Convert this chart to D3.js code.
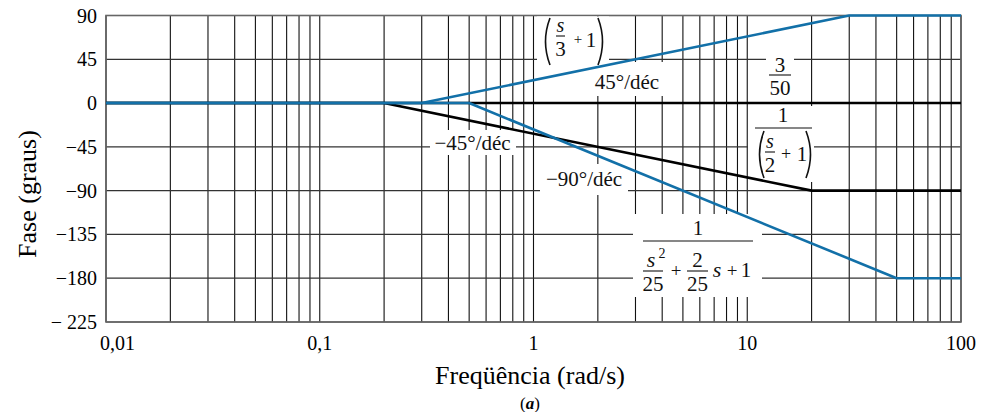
<!DOCTYPE html>
<html>
<head>
<meta charset="utf-8">
<script src="https://cdn.jsdelivr.net/npm/d3@7"></script>
<style>
  html, body { margin: 0; padding: 0; background: #fff; }
  svg { display: block; }
</style>
</head>
<body>
<svg id="chart" width="989" height="412"></svg>
<script>
// Asymptotic Bode phase plot: straight-line approximations of each factor.
const freqDomain = [0.01, 100];
const phaseDomain = [-225, 90];
const phaseTicks = [90, 45, 0, -45, -90, -135, -180, -225];
const phaseTickLabels = ["90", "45", "0", "\u221245", "\u221290", "\u2212135", "\u2212180", "\u2212 225"];
const freqTicks = [0.01, 0.1, 1, 10, 100];
const freqTickLabels = ["0,01", "0,1", "1", "10", "100"];

// 3/50 : constant gain, 0°
const gainFreq = [0.01, 100];
const gainPhase = [0, 0];
// (s/3 + 1) : +45°/déc from 0.3 to 30
const zeroFreq = [0.01, 0.3, 30, 100];
const zeroPhase = [0, 0, 90, 90];
// 1/(s/2 + 1) : −45°/déc from 0.2 to 20
const poleFreq = [0.01, 0.2, 20, 100];
const polePhase = [0, 0, -90, -90];
// 1/(s²/25 + 2s/25 + 1) : −90°/déc from 0.5 to 50
const quadFreq = [0.01, 0.5, 50, 100];
const quadPhase = [0, 0, -180, -180];

const BLUE = "#1270a8";
const FONT = '"Liberation Serif"';
const svg = d3.select("#chart");
const x = d3.scaleLog().domain(freqDomain).range([106, 961]);
const y = d3.scaleLinear().domain(phaseDomain).range([322, 15.5]);

// grid: every 1..9 of each decade
const decadeLines = [];
for (let e = -2; e <= 1; e++) for (let k = 1; k <= 9; k++) decadeLines.push(k * Math.pow(10, e));
decadeLines.push(100);

const grid = svg.append("g");
grid.selectAll("line.v").data(decadeLines).join("line")
  .attr("x1", d => x(d)).attr("x2", d => x(d))
  .attr("y1", y(90)).attr("y2", y(-225))
  .attr("stroke", "#111").attr("stroke-width", 1.1);
grid.selectAll("line.h").data(phaseTicks).join("line")
  .attr("x1", x(0.01)).attr("x2", x(100))
  .attr("y1", d => y(d)).attr("y2", d => y(d))
  .attr("stroke", "#333").attr("stroke-width", 1.2);
grid.append("rect")
  .attr("x", x(0.01)).attr("y", y(90))
  .attr("width", x(100) - x(0.01)).attr("height", y(-225) - y(90))
  .attr("fill", "none").attr("stroke", "#666").attr("stroke-width", 1.6);

// y tick labels
svg.append("g").selectAll("text").data(phaseTicks).join("text")
  .style("font-family", FONT)
  .attr("x", 97).attr("y", d => y(d) + 7)
  .attr("text-anchor", "end").attr("font-size", 20)
  .text((d, i) => phaseTickLabels[i]);

// x tick labels
svg.append("g").selectAll("text").data(freqTicks).join("text")
  .style("font-family", FONT)
  .attr("x", (d, i) => i === 0 ? x(d) - 6 : x(d))
  .attr("y", 350)
  .attr("text-anchor", (d, i) => i === 0 ? "start" : "middle")
  .attr("font-size", 20)
  .text((d, i) => freqTickLabels[i]);

// axis titles
svg.append("text").style("font-family", FONT)
  .attr("transform", "translate(36,194) rotate(-90)")
  .attr("text-anchor", "middle").attr("font-size", 26)
  .text("Fase (graus)");
svg.append("text").style("font-family", FONT)
  .attr("x", 530).attr("y", 384)
  .attr("text-anchor", "middle").attr("font-size", 26)
  .text("Freqüência (rad/s)");
const cap = svg.append("text").style("font-family", FONT)
  .attr("x", 530).attr("y", 409)
  .attr("text-anchor", "middle").attr("font-size", 17);
cap.append("tspan").text("(");
cap.append("tspan").attr("font-weight", "bold").attr("font-style", "italic").text("a");
cap.append("tspan").text(")");

// white panels behind the annotations
const panels = [
  [537, 16.5, 72, 52],    // (s/3 + 1)
  [590, 62, 78, 34],      // 45°/déc
  [766, 48, 28, 54],      // 3/50
  [748, 106, 66, 76],     // 1/(s/2 + 1)
  [430, 130, 86, 25],     // −45°/déc
  [540, 164, 88, 31],     // −90°/déc
  [633, 214, 129, 83]     // second-order term
];
svg.append("g").selectAll("rect").data(panels).join("rect")
  .attr("x", d => d[0]).attr("y", d => d[1])
  .attr("width", d => d[2]).attr("height", d => d[3])
  .attr("fill", "#fff");

// asymptotes
const line = d3.line().x(d => x(d[0])).y(d => y(d[1]));
const curves = svg.append("g").attr("fill", "none").attr("stroke-linejoin", "round");
const zip = (f, p) => f.map((v, i) => [v, p[i]]);
curves.append("path").attr("d", line(zip(gainFreq, gainPhase)))
  .attr("stroke", "#000").attr("stroke-width", 2.6);
curves.append("path").attr("d", line(zip(poleFreq, polePhase)))
  .attr("stroke", "#000").attr("stroke-width", 2.6);
curves.append("path").attr("d", line(zip(zeroFreq, zeroPhase)))
  .attr("stroke", BLUE).attr("stroke-width", 2.6);
curves.append("path").attr("d", line(zip(quadFreq, quadPhase)))
  .attr("stroke", BLUE).attr("stroke-width", 2.6);

// annotation helpers
const ann = svg.append("g").attr("fill", "#111");
function txt(s, cx, base, size, opts = {}) {
  return ann.append("text").style("font-family", FONT)
    .attr("x", cx).attr("y", base)
    .attr("text-anchor", opts.anchor || "middle")
    .attr("font-size", size)
    .attr("font-style", opts.italic ? "italic" : null)
    .text(s);
}
function bar(x1, x2, yy) {
  ann.append("line").attr("x1", x1).attr("x2", x2).attr("y1", yy).attr("y2", yy)
    .attr("stroke", "#111").attr("stroke-width", 1.1);
}
function paren(x0, top, bottom, left) {
  const w = 7, mid = (top + bottom) / 2;
  const outer = left ? x0 : x0 + w;
  const inner = left ? x0 + w : x0;
  const d = `M${inner},${top} Q${outer - (left ? 2 : -2)},${mid} ${inner},${bottom}`;
  ann.append("path").attr("d", d).attr("fill", "none")
    .attr("stroke", "#111").attr("stroke-width", 1.6);
}

// (s/3 + 1)
paren(543, 18, 65, true);
txt("s", 560.5, 32, 20, { italic: true });
bar(556, 565, 36);
txt("3", 560.5, 56, 21);
txt("+", 578, 44, 15);
txt("1", 591, 47, 21);
paren(598, 18, 65, false);

// 45°/déc
txt("45°/déc", 627, 89, 21);

// 3/50
txt("3", 780, 72, 21);
bar(769, 791, 75);
txt("50", 780, 95, 21);

// 1/(s/2 + 1)
txt("1", 783, 122, 21);
bar(755, 812, 128);
paren(757, 131, 178, true);
txt("s", 770, 148, 20, { italic: true });
bar(765, 775, 152);
txt("2", 770, 172, 21);
txt("+", 786, 160, 18);
txt("1", 802, 161, 21);
paren(806, 131, 178, false);

// −45°/déc and −90°/déc
txt("\u221245°/déc", 472.5, 150, 21);
txt("\u221290°/déc", 584, 186, 21);

// 1/(s²/25 + 2s/25 + 1)
txt("1", 698, 235, 21);
bar(643, 753, 241);
txt("s", 651, 267, 22, { italic: true });
txt("2", 662, 258, 14);
bar(643, 663, 271);
txt("25", 653, 291, 21);
txt("+", 676, 277, 19);
txt("2", 697.5, 267, 21);
bar(687, 708, 271);
txt("25", 697.5, 291, 21);
txt("s", 717, 277, 22, { italic: true });
txt("+", 732, 277, 19);
txt("1", 746, 277, 21);
</script>
</body>
</html>
